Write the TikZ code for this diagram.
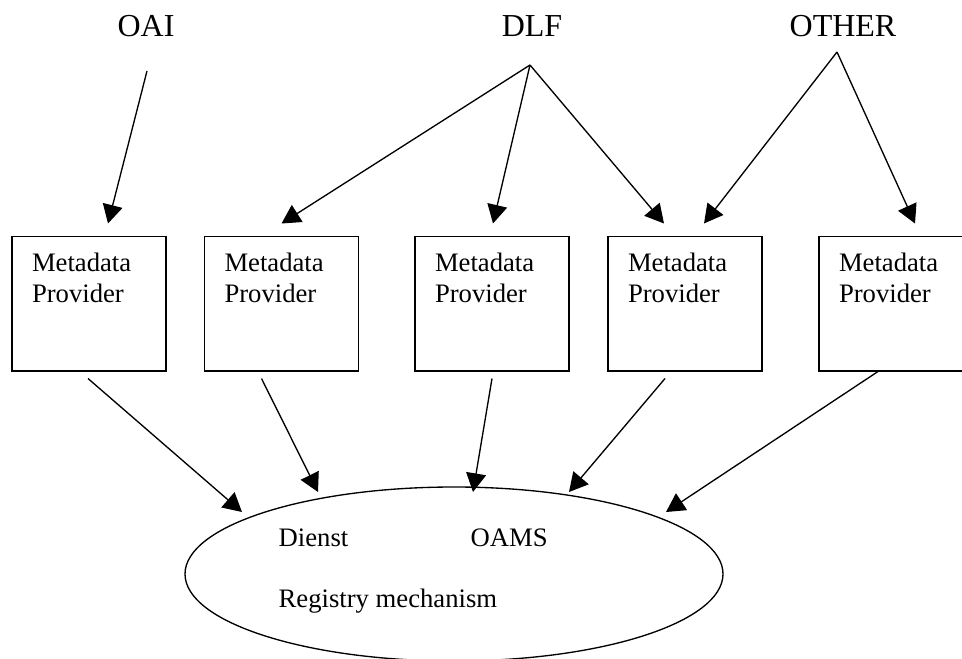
\documentclass[tikz,border=0pt]{standalone}
\usepackage{fontspec}
\setmainfont{Liberation Serif}
\usetikzlibrary{arrows.meta,shapes.geometric,calc}

\begin{document}
\begin{tikzpicture}[x=0.75pt,y=-0.75pt,line width=1pt,
		arr/.style={-{Triangle[length=14pt,width=15pt]}},
		src/.style={font=\fontsize{24}{28}\selectfont, inner sep=0pt, anchor=base},
		prov/.style={draw, minimum width=115.5pt, minimum height=101pt, inner sep=0pt},
		lbl/.style={font=\fontsize{20}{23.3}\selectfont, inner sep=0pt, align=left}]
		\useasboundingbox (0,0) rectangle (962,659);
		\node (oai) [src] at (146,37) {OAI};
		\node (dlf) [src] at (532,37) {DLF};
		\node (other) [src] at (843,37) {OTHER};
		\coordinate (oaip) at ($(oai.base)+(1,34)$);
		\coordinate (dlfp) at ($(dlf.base)+(-2,28)$);
		\coordinate (otherp) at ($(other.base)+(-6,15)$);
		\node (mp1) [prov] at (89,303.5) {};
		\node (mp2) [prov] at (281.5,303.5) {};
		\node (mp3) [prov] at (492,303.5) {};
		\node (mp4) [prov] at (685,303.5) {};
		\node (mp5) [prov] at (896,303.5) {};
		\foreach \i in {1,...,5}
			\node (mp\i t) [lbl, anchor=north west] at ($(mp\i.north west)+(20,17)$) {Metadata\\Provider};
		\node (reg) [draw, ellipse, minimum width=403.5pt, minimum height=130.5pt, inner sep=0pt] at (454,574) {};
		\node (dienst) [lbl, anchor=base west] at (278,546) {Dienst};
		\node (oams) [lbl, anchor=base west] at (470,546) {OAMS};
		\node (regmech) [lbl, anchor=base west] at (278,607) {Registry mechanism};
		\draw[arr] (oaip) -- ($(mp1.north)+(19,-12)$);
		\draw[arr] (dlfp) -- ($(mp2.north)+(0,-12)$);
		\draw[arr] (dlfp) -- ($(mp3.north)+(1,-12)$);
		\draw[arr] (dlfp) -- ($(mp4.north)+(-21,-12)$);
		\draw[arr] (otherp) -- ($(mp4.north)+(19,-12)$);
		\draw[arr] (otherp) -- ($(mp5.north)+(19,-12)$);
		\draw[arr] ($(mp1.south)+(-1,7)$) -- ($(reg.center)+(-212,-62)$);
		\draw[arr] ($(mp2.south)+(-20,7)$) -- ($(reg.center)+(-136,-82)$);
		\draw[arr] ($(mp3.south)+(0,7)$) -- ($(reg.center)+(19,-82)$);
		\draw[arr] ($(mp4.south)+(-20,7)$) -- ($(reg.center)+(115,-82)$);
		\draw[arr] ($(mp5.south)+(-18,0)$) -- ($(reg.center)+(212,-62)$);
\end{tikzpicture}
\end{document}
